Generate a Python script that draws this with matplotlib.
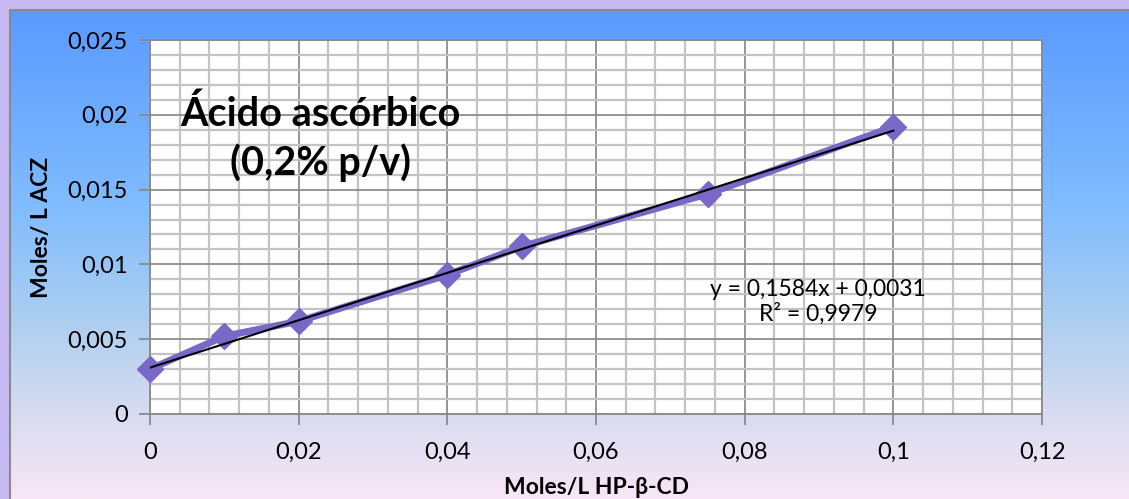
import numpy as np
import matplotlib
matplotlib.use("Agg")
import matplotlib.pyplot as plt
from matplotlib.colors import LinearSegmentedColormap
from matplotlib.patches import Rectangle
from matplotlib.ticker import MultipleLocator, FuncFormatter

# data
conc_cd = [0, 0.01, 0.02, 0.04, 0.05, 0.075, 0.1]
conc_acz = [0.0030, 0.0052, 0.0062, 0.0093, 0.0112, 0.0147, 0.0192]
trend_slope = 0.1584
trend_intercept = 0.0031
r_squared = 0.9979

plt.rcParams['font.family'] = ['Lato', 'DejaVu Sans']

W, H = 1129, 499
fig = plt.figure(figsize=(W / 100, H / 100), dpi=100)

# background: lavender frame + blue-to-pink gradient
bg = fig.add_axes([0, 0, 1, 1])
bg.set_xlim(0, W)
bg.set_ylim(H, 0)
bg.axis('off')
bg.add_patch(Rectangle((0, 0), W, H, color='#c6b9f3', zorder=0))
grad = LinearSegmentedColormap.from_list(
    'bgfade', [(0, '#5a9aff'), (0.4, '#80bcff'), (0.62, '#a9cdf1'),
               (0.8, '#d2daf0'), (1, '#f8e6f6')])
bg.imshow(np.linspace(0, 1, 256).reshape(-1, 1), cmap=grad, aspect='auto',
          extent=(10, W, H, 10), zorder=1)
bg.plot([9.5, 9.5, W], [H, 9.5, 9.5], color='#8a8a8a', lw=1.5, zorder=2)

ax = fig.add_axes([150 / W, 1 - 414 / H, (1042 - 150) / W, (414 - 40) / H])
ax.set_facecolor('white')
ax.set_xlim(0, 0.12)
ax.set_ylim(0, 0.025)

ax.xaxis.set_major_locator(MultipleLocator(0.02))
ax.xaxis.set_minor_locator(MultipleLocator(0.004))
ax.yaxis.set_major_locator(MultipleLocator(0.005))
ax.yaxis.set_minor_locator(MultipleLocator(0.001))
ax.grid(which='minor', color='#c3c3c3', lw=1.6)
ax.grid(which='major', color='#8e8e8e', lw=1.3)
ax.set_axisbelow(True)

comma = FuncFormatter(lambda v, p: ('%g' % round(v, 4)).replace('.', ','))
ax.xaxis.set_major_formatter(comma)
ax.yaxis.set_major_formatter(comma)
ax.tick_params(which='major', length=8, width=1.3, color='#8a8a8a',
               labelsize=17, pad=8)
ax.tick_params(which='minor', length=0)
ax.tick_params(axis='x', pad=12)
for s in ax.spines.values():
    s.set_color('#8a8a8a')
    s.set_linewidth(1.3)

ax.plot(conc_cd, conc_acz, color='#7a68c9', lw=5, marker='D', ms=13,
        mec='#7a68c9', mfc='#7a68c9', zorder=3, clip_on=False)
xt = np.array([conc_cd[0], conc_cd[-1]])
ax.plot(xt, trend_slope * xt + trend_intercept, color='black', lw=1.5, zorder=4)

ax.set_xlabel('Moles/L HP-β-CD', fontsize=16.5, fontweight='bold', labelpad=10)
ax.set_ylabel('Moles/ L ACZ', fontsize=16.5, fontweight='bold', labelpad=11)

ax.text(0.0229, 0.0184, 'Ácido ascórbico\n(0,2% p/v)', ha='center', va='center',
        fontsize=28.5, fontweight='bold', linespacing=1.3)
eq = 'y = %sx + %s\nR² = %s' % (str(trend_slope).replace('.', ','),
                               str(trend_intercept).replace('.', ','),
                               str(r_squared).replace('.', ','))
ax.text(0.0899, 0.0075, eq, ha='center', va='center', fontsize=16.5,
        linespacing=1.15)

fig.savefig('out.png', dpi=100)
